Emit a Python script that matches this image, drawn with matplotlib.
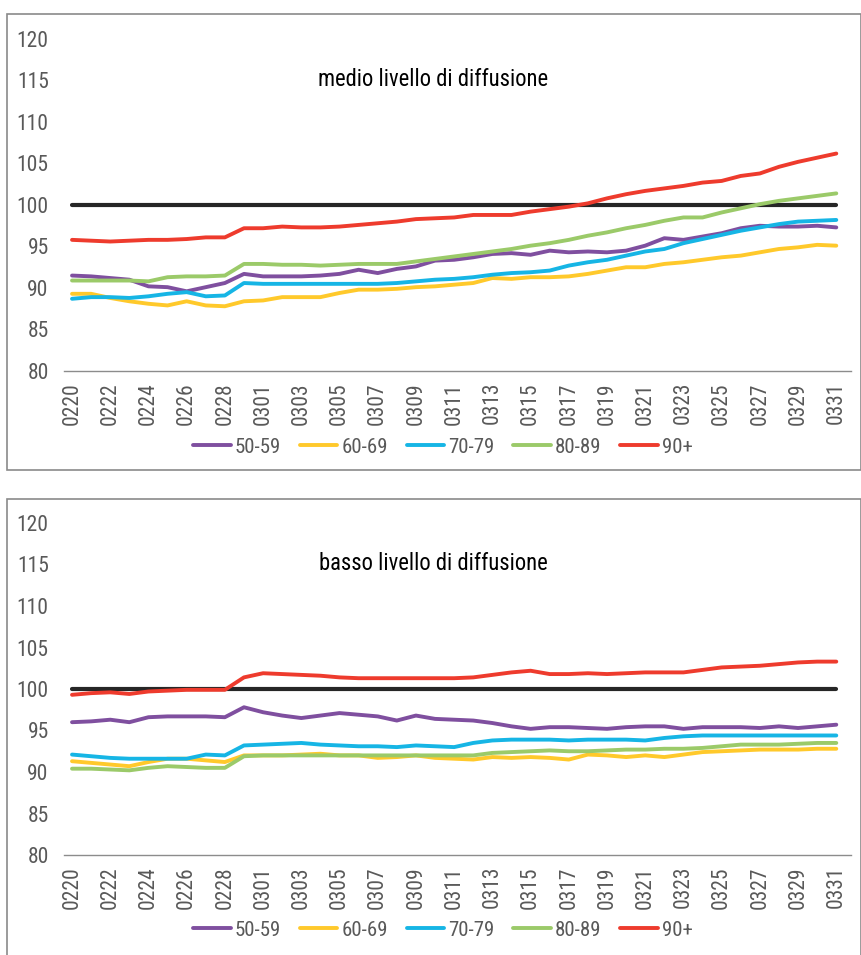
import numpy as np
import matplotlib
matplotlib.use("Agg")
import matplotlib.pyplot as plt
from matplotlib.patches import Rectangle

plt.rcParams['font.family'] = ['Roboto Condensed', 'Liberation Sans', 'DejaVu Sans']

# giorni dal 20 febbraio al 31 marzo (2020, anno bisestile)
days = [f"02{d:02d}" for d in range(20, 30)] + [f"03{d:02d}" for d in range(1, 32)]

groups = ["50-59", "60-69", "70-79", "80-89", "90+"]
colors = ["#7f4f9f", "#ffc92b", "#16b5e5", "#9bca69", "#ee3b2d"]

# medio livello di diffusione
medio_50 = [91.5, 91.4, 91.2, 91.0, 90.2, 90.1, 89.6, 90.1, 90.6, 91.7,
            91.4, 91.4, 91.4, 91.5, 91.7, 92.2, 91.8, 92.3, 92.6, 93.3,
            93.4, 93.7, 94.1, 94.2, 94.0, 94.5, 94.3, 94.4, 94.3, 94.5,
            95.1, 96.0, 95.8, 96.2, 96.6, 97.2, 97.5, 97.4, 97.4, 97.5, 97.3]
medio_60 = [89.3, 89.3, 88.8, 88.4, 88.1, 87.9, 88.4, 87.9, 87.8, 88.4,
            88.5, 88.9, 88.9, 88.9, 89.4, 89.8, 89.8, 89.9, 90.1, 90.2,
            90.4, 90.6, 91.2, 91.1, 91.3, 91.3, 91.4, 91.7, 92.1, 92.5,
            92.5, 92.9, 93.1, 93.4, 93.7, 93.9, 94.3, 94.7, 94.9, 95.2, 95.1]
medio_70 = [88.7, 88.9, 88.9, 88.8, 89.0, 89.3, 89.5, 89.0, 89.1, 90.6,
            90.5, 90.5, 90.5, 90.5, 90.5, 90.5, 90.5, 90.6, 90.8, 91.0,
            91.1, 91.3, 91.6, 91.8, 91.9, 92.1, 92.7, 93.1, 93.4, 93.9,
            94.4, 94.7, 95.4, 95.9, 96.4, 96.9, 97.3, 97.7, 98.0, 98.1, 98.2]
medio_80 = [90.9, 90.9, 90.9, 90.9, 90.8, 91.3, 91.4, 91.4, 91.5, 92.9,
            92.9, 92.8, 92.8, 92.7, 92.8, 92.9, 92.9, 92.9, 93.2, 93.5,
            93.8, 94.1, 94.4, 94.7, 95.1, 95.4, 95.8, 96.3, 96.7, 97.2,
            97.6, 98.1, 98.5, 98.5, 99.1, 99.6, 100.1, 100.5, 100.8, 101.1, 101.4]
medio_90 = [95.8, 95.7, 95.6, 95.7, 95.8, 95.8, 95.9, 96.1, 96.1, 97.2,
            97.2, 97.4, 97.3, 97.3, 97.4, 97.6, 97.8, 98.0, 98.3, 98.4,
            98.5, 98.8, 98.8, 98.8, 99.2, 99.5, 99.8, 100.2, 100.8, 101.3,
            101.7, 102.0, 102.3, 102.7, 102.9, 103.5, 103.8, 104.6, 105.2, 105.7, 106.2]

# basso livello di diffusione
basso_50 = [96.0, 96.1, 96.3, 96.0, 96.6, 96.7, 96.7, 96.7, 96.6, 97.8,
            97.2, 96.8, 96.5, 96.8, 97.1, 96.9, 96.7, 96.2, 96.8, 96.4,
            96.3, 96.2, 95.9, 95.5, 95.2, 95.4, 95.4, 95.3, 95.2, 95.4,
            95.5, 95.5, 95.2, 95.4, 95.4, 95.4, 95.3, 95.5, 95.3, 95.5, 95.7]
basso_60 = [91.3, 91.1, 90.9, 90.7, 91.2, 91.6, 91.6, 91.4, 91.2, 92.0,
            92.0, 92.0, 92.1, 92.2, 92.0, 92.0, 91.7, 91.8, 92.0, 91.7,
            91.6, 91.5, 91.8, 91.7, 91.8, 91.7, 91.5, 92.1, 92.0, 91.8,
            92.0, 91.8, 92.1, 92.4, 92.5, 92.6, 92.7, 92.7, 92.7, 92.8, 92.8]
basso_70 = [92.1, 91.9, 91.7, 91.6, 91.6, 91.6, 91.6, 92.1, 92.0, 93.2,
            93.3, 93.4, 93.5, 93.3, 93.2, 93.1, 93.1, 93.0, 93.2, 93.1,
            93.0, 93.5, 93.8, 93.9, 93.9, 93.9, 93.8, 93.9, 93.9, 93.9,
            93.8, 94.1, 94.3, 94.4, 94.4, 94.4, 94.4, 94.4, 94.4, 94.4, 94.4]
basso_80 = [90.4, 90.4, 90.3, 90.2, 90.5, 90.7, 90.6, 90.5, 90.5, 91.9,
            92.0, 92.0, 92.0, 92.0, 92.0, 92.0, 92.0, 92.0, 92.0, 92.0,
            92.0, 92.0, 92.3, 92.4, 92.5, 92.6, 92.5, 92.5, 92.6, 92.7,
            92.7, 92.8, 92.8, 92.9, 93.1, 93.3, 93.3, 93.3, 93.4, 93.5, 93.5]
basso_90 = [99.3, 99.5, 99.6, 99.4, 99.7, 99.8, 99.9, 99.9, 99.9, 101.4,
            101.9, 101.8, 101.7, 101.6, 101.4, 101.3, 101.3, 101.3, 101.3, 101.3,
            101.3, 101.4, 101.7, 102.0, 102.2, 101.8, 101.8, 101.9, 101.8, 101.9,
            102.0, 102.0, 102.0, 102.3, 102.6, 102.7, 102.8, 103.0, 103.2, 103.3, 103.3]

baseline = [100] * len(days)

W, H = 862, 955
fig = plt.figure(figsize=(W / 100, H / 100), dpi=100)


def px_axes(x0, y0, x1, y1):
    # pixel box (top-left origin) -> figure axes
    return fig.add_axes([x0 / W, 1 - y1 / H, (x1 - x0) / W, (y1 - y0) / H])


def panel(box, ax_box, series, title, title_y, legend_y):
    x0, y0, x1, y1 = box
    fig.patches.append(Rectangle((x0 / W, 1 - y1 / H), (x1 - x0) / W, (y1 - y0) / H,
                                 transform=fig.transFigure, fill=False,
                                 edgecolor="#8a8a8a", linewidth=1.2))
    ax = px_axes(*ax_box)
    x = np.arange(len(days))
    ax.plot(x, baseline, color="#262626", lw=3.0, solid_capstyle="round")
    for name, vals, c in zip(groups, series, colors):
        ax.plot(x, vals, color=c, lw=2.8, label=name, solid_capstyle="round")
    ax.set_xlim(-0.42, 40.77)
    ax.set_ylim(80, 120)
    ax.set_yticks(range(80, 121, 5))
    ax.set_xticks(x[::2])
    ax.set_xticklabels(days[::2], rotation=90)
    ax.tick_params(axis="both", length=0, labelsize=15.5, labelcolor="#595959")
    ax.tick_params(axis="y", pad=11)
    ax.tick_params(axis="x", pad=8)
    for s in ["left", "right", "top"]:
        ax.spines[s].set_visible(False)
    ax.spines["bottom"].set_color("#8c8c8c")
    ax.spines["bottom"].set_linewidth(1.0)
    fig.text(433 / W, 1 - title_y / H, title, ha="center", va="center",
             fontsize=16.3, color="black")
    leg = ax.legend(loc="center", bbox_to_anchor=(443 / W, 1 - legend_y / H),
                    bbox_transform=fig.transFigure, ncol=5, frameon=False,
                    fontsize=15, handlelength=1.8, handletextpad=0.2,
                    columnspacing=0.9)
    for t in leg.get_texts():
        t.set_color("#595959")
    return ax


panel((7, 14, 861, 470), (64, 39, 851, 371),
      [medio_50, medio_60, medio_70, medio_80, medio_90],
      "medio livello di diffusione", 79, 447)
panel((7, 499, 861, 960), (64, 523, 851, 855),
      [basso_50, basso_60, basso_70, basso_80, basso_90],
      "basso livello di diffusione", 563, 930)

fig.savefig("out.png", dpi=100)
